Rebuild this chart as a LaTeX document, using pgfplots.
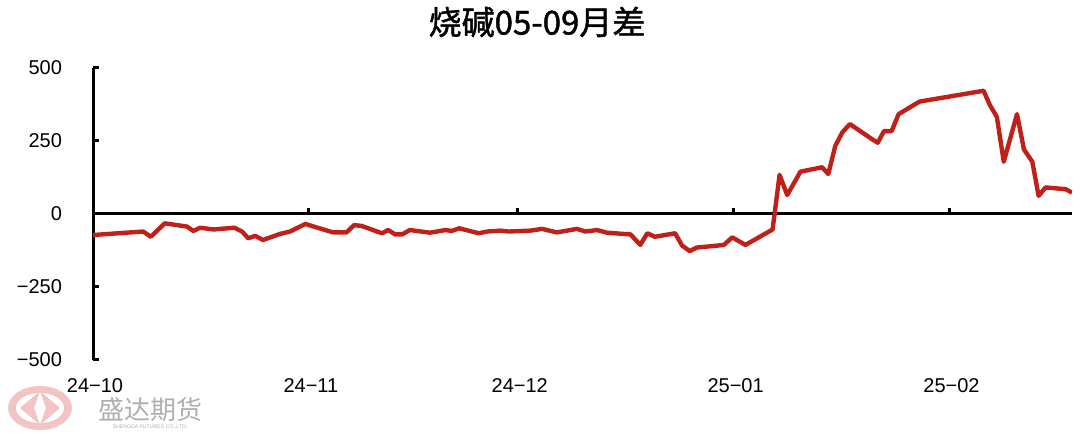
\documentclass[border=0pt]{standalone}
\usepackage{pgfplots}
\pgfplotsset{compat=1.18}
\usepackage{fontspec}
\setmainfont{Liberation Sans}
\newfontfamily\cjk{Noto Sans CJK SC}
\newfontfamily\cjktitle[FakeBold=1.3]{Noto Sans CJK SC}
\definecolor{spread}{RGB}{192,32,26}
\definecolor{wmgray}{RGB}{175,175,175}
\definecolor{wmpink}{RGB}{242,196,196}
\begin{document}
\begin{tikzpicture}
\useasboundingbox (0,0) rectangle (540pt,221.5pt);
% title
\node[font=\cjktitle\fontsize{16.5}{18}\selectfont] at (268.5pt,210.5pt) {烧碱05-09月差};
% watermark
\fill[wmpink] (20pt,17.5pt) ellipse [x radius=16pt, y radius=11pt];
\fill[white] (20pt,17.5pt) ellipse [x radius=12pt, y radius=7.5pt];
\fill[wmpink] (10pt,17.5pt) -- (20pt,26pt) -- (17pt,17.5pt) -- (20pt,9pt) -- cycle;
\fill[wmpink] (30pt,17.5pt) -- (20pt,26pt) -- (23pt,17.5pt) -- (20pt,9pt) -- cycle;
\node[font=\cjk\fontsize{13}{14}\selectfont, text=wmgray] at (75pt,16.5pt) {盛达期货};
\node[font=\fontsize{2.6}{3}\selectfont, text=wmgray] at (75pt,8pt) {SHENGDA FUTURES CO.,LTD.};
\begin{axis}[
    at={(46.5pt,41.5pt)}, anchor=south west,
    scale only axis,
    width=489.5pt, height=146pt,
    xmin=0, xmax=140.6,
    ymin=-500, ymax=500,
    axis x line=middle,
    axis y line=left,
    axis line style={line width=1.5pt, -},
    hide obscured x ticks=false,
    hide obscured y ticks=false,
    tick style={black, line width=1.5pt},
    major tick length=3pt,
    tick align=inside,
    ytick={-500,-250,0,250,500},
    yticklabels={−500,−250,0,250,500},
    xtick={0,31,61,92,123},
    xticklabels={24−10,24−11,24−12,25−01,25−02},
    ticklabel style={font=\fontsize{10}{12}\selectfont},
    yticklabel style={xshift=-12pt},
    xticklabel style={yshift=-78.5pt, xshift=1pt},
]
\addplot[spread, line width=2.2pt, line join=round] coordinates {
(0,-72) (7.2,-60) (8.3,-78) (10.3,-32) (13.5,-43) (14.4,-58) (15.4,-47)
(17.3,-53) (20.3,-47) (21.4,-60) (22.3,-83) (23.3,-75) (24.4,-89)
(26.9,-68) (28.3,-60) (30.5,-34) (32.1,-46) (34.5,-63) (36.4,-63)
(37.5,-38) (38.6,-41) (41.5,-66) (42.4,-55) (43.4,-70) (44.4,-70)
(45.5,-55) (48.4,-64) (50.6,-55) (51.5,-58) (52.6,-49) (55.4,-66)
(56.6,-60) (58.5,-57) (59.7,-60) (62.8,-57) (64.5,-51) (66.6,-63)
(69.5,-51) (70.7,-60) (72.4,-55) (73.8,-64) (77.2,-70) (78.6,-106)
(79.6,-66) (80.7,-78) (83.6,-66) (84.6,-108) (85.7,-127) (86.7,-115)
(90.6,-106) (91.8,-80) (93.7,-106) (97.6,-53) (98.6,134) (99.7,65)
(101.6,145) (104.7,160) (105.6,137) (106.6,233) (107.6,279) (108.7,308)
(111.9,256) (112.7,244) (113.6,284) (114.7,284) (115.7,342) (118.7,385)
(127.9,422) (128.8,373) (129.8,333) (130.8,179) (132.7,342) (133.7,221)
(134.9,179) (135.8,62) (136.8,91) (139.7,85) (140.6,73)
};
\end{axis}
\end{tikzpicture}
\end{document}
